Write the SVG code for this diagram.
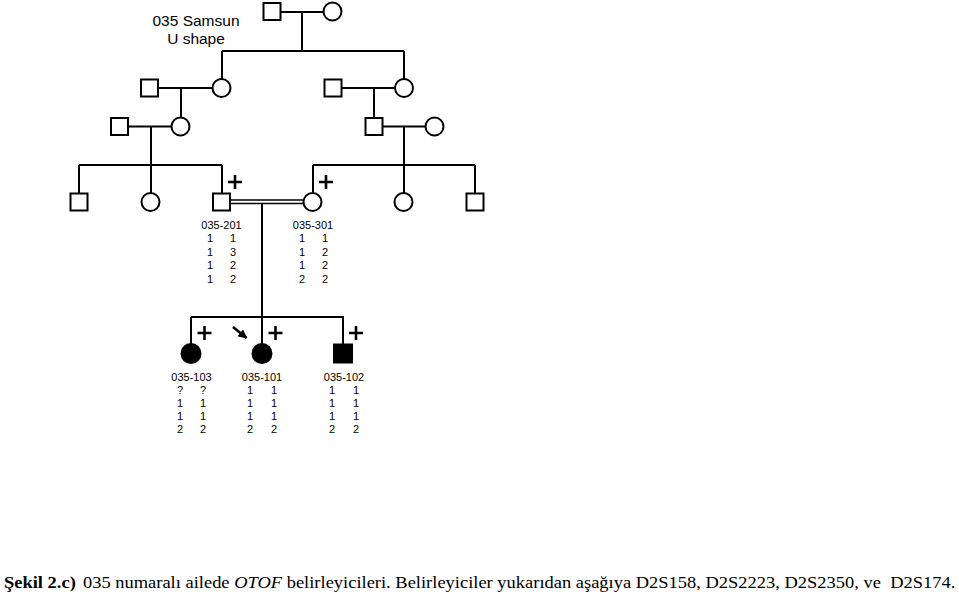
<svg xmlns="http://www.w3.org/2000/svg" width="959" height="594" viewBox="0 0 959 594">
<defs>
<style>
.ln{stroke:#000;stroke-width:2;fill:none}
.dl{stroke:#000;stroke-width:1.5;fill:none}
.m{fill:#fff;stroke:#000;stroke-width:2}
.a{fill:#000;stroke:#000;stroke-width:2}
.pl{stroke:#000;stroke-width:2.6;fill:none}
.t{font-family:"Liberation Sans",Arial,sans-serif;font-size:11px;fill:#000;text-anchor:middle}
.h{font-family:"Liberation Sans",Arial,sans-serif;font-size:15.5px;fill:#000;text-anchor:middle}
.c{font-family:"Liberation Serif","Times New Roman",serif;font-size:16.5px;fill:#000}
</style>
<marker id="ah" viewBox="0 0 10 10" refX="9" refY="5" markerWidth="3.6" markerHeight="3.6" orient="auto" markerUnits="strokeWidth">
<path d="M0,0 L10,5 L0,10 z" fill="#000"/>
</marker>
</defs>
<rect width="959" height="594" fill="#fff"/>
<text class="h" x="196" y="26">035 Samsun</text>
<text class="h" x="196" y="44">U shape</text>
<g id="connectors">
<path class="ln" d="M281,12 H323 M302,12 V51 M222,51 H404 M222,51 V79 M404,51 V79"/>
<path class="ln" d="M158,88 H212 M181,88 V117 M128,126.5 H171 M151,126.5 V165"/>
<path class="ln" d="M342,88 H394 M374,88 V117 M383,126.5 H425 M404,126.5 V165"/>
<path class="ln" d="M79,165 H222 M79,165 V193 M151,165 V193 M222,165 V193"/>
<path class="ln" d="M313,165 H475 M313,165 V193 M404,165 V193 M475,165 V193"/>
<path class="dl" d="M230,200 H303 M230,203.5 H303"/>
<path class="ln" d="M262,203.5 V317 M191,317 H344 M191,317 V344 M262,317 V344 M343,317 V344"/>
<path d="M233,327 L246.5,338" stroke="#000" stroke-width="2.5" fill="none" marker-end="url(#ah)"/>
</g>
<g id="I1"><rect class="m" x="263.5" y="3" width="17" height="17"/></g>
<g id="I2"><circle class="m" cx="332.5" cy="11.5" r="9"/></g>
<g id="II1"><rect class="m" x="141" y="79.5" width="17" height="17"/></g>
<g id="II2"><circle class="m" cx="221.5" cy="88" r="9"/></g>
<g id="II3"><rect class="m" x="324.5" y="79.5" width="17" height="17"/></g>
<g id="II4"><circle class="m" cx="404" cy="88" r="9"/></g>
<g id="III1"><rect class="m" x="111" y="118" width="17" height="17"/></g>
<g id="III2"><circle class="m" cx="180.5" cy="126.5" r="9"/></g>
<g id="III3"><rect class="m" x="365.5" y="118" width="17" height="17"/></g>
<g id="III4"><circle class="m" cx="434.5" cy="126.5" r="9"/></g>
<g id="IV1"><rect class="m" x="70.5" y="193.5" width="17" height="17"/></g>
<g id="IV2"><circle class="m" cx="150.5" cy="202" r="9"/></g>
<g id="n035-201"><rect class="m" x="213" y="193.5" width="17" height="17"/>
<path class="pl" d="M228,182 H242 M235,175 V189"/>
<text class="t" x="221.5" y="228.5">035-201</text>
<text class="t" y="242"><tspan x="210">1</tspan><tspan x="233">1</tspan></text>
<text class="t" y="255.5"><tspan x="210">1</tspan><tspan x="233">3</tspan></text>
<text class="t" y="269"><tspan x="210">1</tspan><tspan x="233">2</tspan></text>
<text class="t" y="282.5"><tspan x="210">1</tspan><tspan x="233">2</tspan></text>
</g>
<g id="n035-301"><circle class="m" cx="312.5" cy="202" r="9"/>
<path class="pl" d="M319,182 H333 M326,175 V189"/>
<text class="t" x="313" y="228.5">035-301</text>
<text class="t" y="242"><tspan x="302">1</tspan><tspan x="325">1</tspan></text>
<text class="t" y="255.5"><tspan x="302">1</tspan><tspan x="325">2</tspan></text>
<text class="t" y="269"><tspan x="302">1</tspan><tspan x="325">2</tspan></text>
<text class="t" y="282.5"><tspan x="302">2</tspan><tspan x="325">2</tspan></text>
</g>
<g id="IV5"><circle class="m" cx="403.5" cy="202" r="9"/></g>
<g id="IV6"><rect class="m" x="466.5" y="193.5" width="17" height="17"/></g>
<g id="n035-103"><circle class="a" cx="191" cy="353.5" r="9.5"/>
<path class="pl" d="M197.5,333 H211.5 M204.5,326 V340"/>
<text class="t" x="191.5" y="381">035-103</text>
<text class="t" y="394"><tspan x="180">?</tspan><tspan x="203">?</tspan></text>
<text class="t" y="407"><tspan x="180">1</tspan><tspan x="203">1</tspan></text>
<text class="t" y="420"><tspan x="180">1</tspan><tspan x="203">1</tspan></text>
<text class="t" y="433"><tspan x="180">2</tspan><tspan x="203">2</tspan></text>
</g>
<g id="n035-101"><circle class="a" cx="262" cy="353.5" r="9.5"/>
<path class="pl" d="M268.5,333 H282.5 M275.5,326 V340"/>
<text class="t" x="262" y="381">035-101</text>
<text class="t" y="394"><tspan x="250">1</tspan><tspan x="274">1</tspan></text>
<text class="t" y="407"><tspan x="250">1</tspan><tspan x="274">1</tspan></text>
<text class="t" y="420"><tspan x="250">1</tspan><tspan x="274">1</tspan></text>
<text class="t" y="433"><tspan x="250">2</tspan><tspan x="274">2</tspan></text>
</g>
<g id="n035-102"><rect class="a" x="334" y="344.5" width="18" height="18"/>
<path class="pl" d="M349,333 H363 M356,326 V340"/>
<text class="t" x="344" y="381">035-102</text>
<text class="t" y="394"><tspan x="332">1</tspan><tspan x="356">1</tspan></text>
<text class="t" y="407"><tspan x="332">1</tspan><tspan x="356">1</tspan></text>
<text class="t" y="420"><tspan x="332">1</tspan><tspan x="356">1</tspan></text>
<text class="t" y="433"><tspan x="332">2</tspan><tspan x="356">2</tspan></text>
</g>
<text class="c" transform="translate(4,588) scale(1.12,1)"><tspan x="0" font-weight="bold">Şekil 2.c)</tspan><tspan x="70.5">035 numaralı ailede </tspan><tspan font-style="italic">OTOF</tspan><tspan> belirleyicileri. Belirleyiciler yukarıdan aşağıya D2S158, D2S2223, D2S2350, ve&#160; D2S174.</tspan></text>
</svg>
